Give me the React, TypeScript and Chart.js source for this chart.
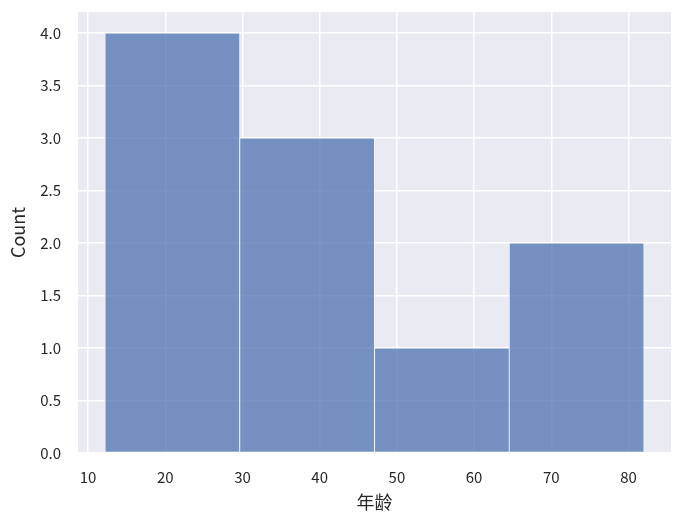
import React, { useEffect, useRef } from 'react';
import { Chart, registerables } from 'chart.js';

Chart.register(...registerables);

// Histogram data (bin edges and counts)
const binEdges = [12.2, 29.65, 47.1, 64.55, 82.0];
const counts = [4, 3, 1, 2];
const xTicks = [10, 20, 30, 40, 50, 60, 70, 80];
const yTicks = [0, 0.5, 1, 1.5, 2, 2.5, 3, 3.5, 4];
const xLabel = '年龄';
const yLabel = 'Count';
const xRange = [8.7, 85.5];
const yRange = [0, 4.2];

const FONT = '"Noto Sans CJK SC", "Noto Sans", sans-serif';
const TEXT = '#262626';

const bgPlugin = {
  id: 'bgPlugin',
  beforeDraw(chart: any) {
    const { ctx, chartArea } = chart;
    ctx.save();
    ctx.fillStyle = '#eaeaf2';
    ctx.fillRect(chartArea.left, chartArea.top, chartArea.width, chartArea.height);
    ctx.restore();
  },
};

export default function App() {
  const ref = useRef<HTMLCanvasElement>(null);

  useEffect(() => {
    if (!ref.current) return;
    const points = counts.map((c, i) => ({ x: (binEdges[i] + binEdges[i + 1]) / 2, y: c }));
    const chart = new Chart(ref.current, {
      type: 'bar',
      data: {
        datasets: [
          {
            data: points as any,
            backgroundColor: 'rgba(76,114,176,0.75)',
            borderColor: '#ffffff',
            borderWidth: 0.75,
            borderSkipped: false,
            barThickness: 'flex',
            barPercentage: 1,
            categoryPercentage: 1,
          } as any,
        ],
      },
      options: {
        animation: false,
        responsive: false,
        devicePixelRatio: 1,
        layout: { padding: { top: 12, right: 8, left: 0, bottom: 0 } },
        plugins: { legend: { display: false }, tooltip: { enabled: false } },
        scales: {
          x: {
            type: 'linear',
            min: xRange[0],
            max: xRange[1],
            offset: false,
            afterBuildTicks: (s: any) => {
              s.ticks = xTicks.map((v) => ({ value: v }));
            },
            afterFit: (s: any) => {
              s.height = 63;
              s.paddingLeft = 0;
              s.paddingRight = 0;
            },
            grid: { color: '#ffffff', lineWidth: 1.5, drawTicks: false, offset: false },
            border: { display: false },
            ticks: {
              color: TEXT,
              font: { family: FONT, size: 15 },
              padding: 15,
              maxRotation: 0,
              autoSkip: false,
              callback: (v: any) => String(v),
            },
            title: {
              display: true,
              text: xLabel,
              color: TEXT,
              font: { family: FONT, size: 18 },
              padding: { top: 0, bottom: 3 },
            },
          },
          y: {
            type: 'linear',
            min: yRange[0],
            max: yRange[1],
            afterBuildTicks: (s: any) => {
              s.ticks = yTicks.map((v) => ({ value: v }));
            },
            afterFit: (s: any) => {
              s.width = 78;
              s.paddingTop = 0;
              s.paddingBottom = 0;
            },
            grid: { color: '#ffffff', lineWidth: 1.5, drawTicks: false },
            border: { display: false },
            ticks: {
              color: TEXT,
              font: { family: FONT, size: 15 },
              padding: 17,
              autoSkip: false,
              callback: (v: any) => Number(v).toFixed(1),
            },
            title: {
              display: true,
              text: yLabel,
              color: TEXT,
              font: { family: FONT, size: 18 },
              padding: { top: 7, bottom: 0 },
            },
          },
        },
      },
      plugins: [bgPlugin],
    });
    return () => chart.destroy();
  }, []);

  return (
    <div style={{ position: 'fixed', left: 0, top: 0, width: 679, height: 516, background: '#fff' }}>
      <canvas ref={ref} width={679} height={516} style={{ display: 'block' }} />
    </div>
  );
}
